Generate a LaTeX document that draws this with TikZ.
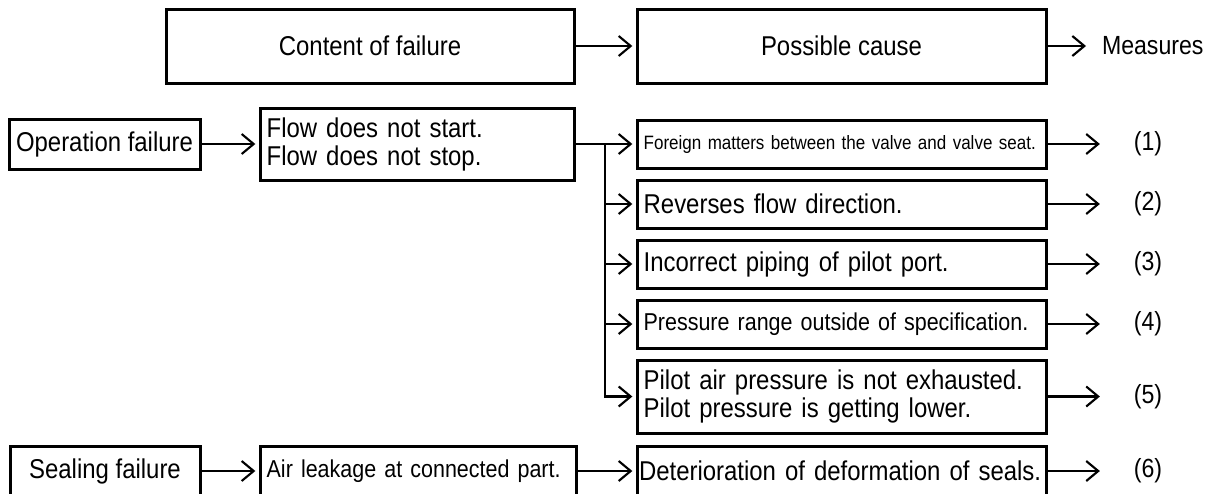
\documentclass[tikz,border=0pt]{standalone}
\usepackage{fontspec}
\setmainfont{Liberation Sans}[FakeStretch=0.88]
\usetikzlibrary{arrows.meta}
\newcommand\myfs[2]{\fontsize{#1}{#2}\selectfont}
\tikzset{
  box/.style={draw, line width=2.25pt, inner sep=0pt, outer sep=0pt, font=\myfs{20.4}{21}},
  cbox/.style={box, align=center},
  lbox/.style={box, align=left, inner xsep=5pt, anchor=west, text width=#1},
  arr/.style={line width=1.6pt, -{Straight Barb[length=9pt,width=15pt,line width=1.6pt]}},
  barr/.style={arr, shorten >=3.5pt},
  meas/.style={inner sep=0pt, outer sep=0pt, font=\myfs{19.7}{20}},
}
\begin{document}
\begin{tikzpicture}[x=0.75pt,y=-0.75pt]
\useasboundingbox (0,0) rectangle (1209,493);
\clip (0,0) rectangle (1209,493);
% header
\node[cbox, minimum width=306pt, minimum height=55.5pt] (content) at (370,46) {Content of failure};
\node[cbox, minimum width=306.75pt, minimum height=55.5pt] (possible) at (841.5,46) {Possible cause};
\node[meas, anchor=west] (measures) at (1102,46) {Measures};
% operation failure
\node[cbox, minimum width=143.25pt, minimum height=37.5pt] (op) at (104.5,144) {Operation failure};
\node[lbox=225.5pt, minimum height=54pt] (flow) at (260,144) {\mbox{Flow does not start.}\\\mbox{Flow does not stop.}};
\node[lbox=296.75pt, minimum height=36pt, font=\myfs{14.5}{17}] (c1) at (637,144) {\mbox{Foreign matters between the valve and valve seat.}};
\node[lbox=296.75pt, minimum height=36pt] (c2) at (637,204) {\mbox{Reverses flow direction.}};
\node[lbox=296.75pt, minimum height=36pt] (c3) at (637,264) {\mbox{Incorrect piping of pilot port.}};
\node[lbox=296.75pt, minimum height=36pt, font=\myfs{18.3}{20}] (c4) at (637,324) {\mbox{Pressure range outside of specification.}};
\node[lbox=296.75pt, minimum height=54.75pt] (c5) at (637,396.5) {\mbox{Pilot air pressure is not exhausted.}\\\mbox{Pilot pressure is getting lower.}};
% sealing failure
\node[cbox, minimum width=142.5pt, minimum height=37.5pt] (seal) at (105,471) {Sealing failure};
\node[lbox=227pt, minimum height=37.5pt, font=\myfs{18.3}{20}] (air) at (260,471) {\mbox{Air leakage at connected part.}};
\node[lbox=303.75pt, inner xsep=1.5pt, minimum height=37.5pt] (c6) at (637,471) {\mbox{Deterioration of deformation of seals.}};
% measures
\node[meas] (m1) at (1148,144) {(1)};
\node[meas] (m2) at (1148,204) {(2)};
\node[meas] (m3) at (1148,264) {(3)};
\node[meas] (m4) at (1148,324) {(4)};
\node[meas] (m5) at (1148,396.5) {(5)};
\node[meas] (m6) at (1148,471) {(6)};
% connectors
\draw[barr] (content) -- (possible);
\draw[arr] (possible.east) -- ([xshift=-12pt]measures.west);
\draw[barr] (op) -- (flow.west);
\draw[barr] (flow.east) -- (c1.west);
\coordinate (j) at (605,144);
\draw[barr] (j |- c2.west) -- (c2.west);
\draw[barr] (j |- c3.west) -- (c3.west);
\draw[barr] (j |- c4.west) -- (c4.west);
\draw[barr] (j) |- (c5.west);
\draw[barr] (seal.east) -- (air.west);
\draw[barr] (air.east) -- (c6.west);
\foreach \i in {1,...,6} {
  \draw[arr] (c\i.east) -- ([xshift=-25.5pt]m\i.west);
}
\end{tikzpicture}
\end{document}
